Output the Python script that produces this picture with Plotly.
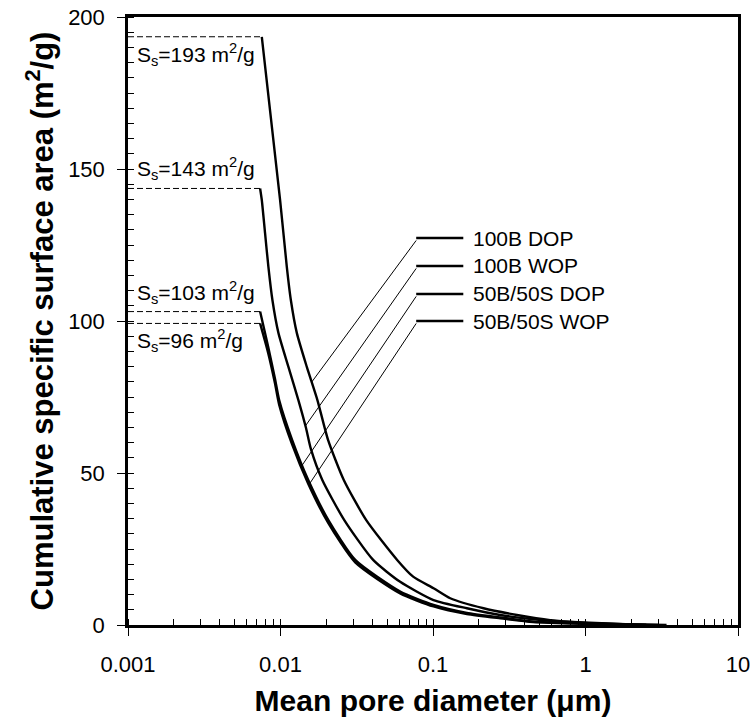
import numpy as np
import plotly.graph_objects as go

# ---------------- data ----------------
series_names = ["100B DOP", "100B WOP", "50B/50S DOP", "50B/50S WOP"]
ss_labels = ["193", "143", "103", "96"]

x_100B_DOP = [0.00754, 0.00994, 0.0110, 0.01169, 0.01279, 0.01488, 0.01746, 0.0205, 0.0260,
              0.0365, 0.0582, 0.0741, 0.1008, 0.1297, 0.2145, 0.355, 0.587, 0.968, 2.0, 3.4]
y_100B_DOP = [193.5, 139.8, 117.8, 106.9, 96.1, 84.9, 74.0, 60.9, 47.7,
              34.5, 21.4, 15.9, 12.1, 8.8, 5.5, 3.3, 1.6, 0.8, 0.2, 0.0]

x_100B_WOP = [0.00735, 0.00754, 0.00792, 0.00833, 0.00885, 0.00969, 0.01127, 0.0131, 0.0147,
              0.0158, 0.0188, 0.0262, 0.0405, 0.0609, 0.1008, 0.1668, 0.276, 0.454, 1.0, 2.0, 3.0]
y_100B_WOP = [143.6, 139.8, 128.9, 117.8, 106.9, 96.1, 84.9, 74.0, 64.8,
              58.0, 47.7, 34.5, 21.4, 14.2, 8.2, 5.5, 3.3, 1.9, 0.7, 0.2, 0.0]

x_50_DOP = [0.00735, 0.0083, 0.0092, 0.0098, 0.0119, 0.0152, 0.0206, 0.0309, 0.0609,
            0.1008, 0.1668, 0.276, 0.454, 1.0, 2.5]
y_50_DOP = [103.1, 91.5, 81.0, 74.0, 61.0, 47.7, 34.5, 21.4, 11.0,
            6.6, 4.0, 2.5, 1.1, 0.5, 0.0]

x_50_WOP = [0.00735, 0.0083, 0.0092, 0.0098, 0.0119, 0.0152, 0.0206, 0.0309, 0.0609,
            0.1008, 0.1668, 0.276, 0.454, 1.0, 2.5]
y_50_WOP = [99.2, 89.5, 79.5, 72.5, 59.5, 46.5, 33.5, 20.6, 10.4,
            6.1, 3.6, 2.2, 1.0, 0.4, 0.0]

x_tick_vals = [0.001, 0.01, 0.1, 1, 10]
x_tick_text = ["0.001", "0.01", "0.1", "1", "10"]
y_tick_vals = [0, 50, 100, 150, 200]

# legend label anchor (y values) and pointer target values on curves
legend_label_y = [127.3, 118.1, 108.9, 100.0]
pointer_target_y = [79.9, 65.5, 52.6, 46.1]
legend_line_x = [0.0776, 0.158]

xs = [x_100B_DOP, x_100B_WOP, x_50_DOP, x_50_WOP]
ys = [y_100B_DOP, y_100B_WOP, y_50_DOP, y_50_WOP]

FONT = "Arial, Liberation Sans, sans-serif"
fig = go.Figure()

# curves
for name, x, y in zip(series_names, xs, ys):
    fig.add_trace(go.Scatter(x=x, y=y, mode="lines", name=name,
                             line=dict(color="black", width=2.4, shape="spline", smoothing=0.6),
                             showlegend=False))

# dashed reference lines from y-axis to each curve start
for x, y in zip(xs, ys):
    fig.add_trace(go.Scatter(x=[x_tick_vals[0], x[0]], y=[y[0], y[0]], mode="lines",
                             line=dict(color="black", width=1, dash="6px,3px"),
                             showlegend=False, hoverinfo="skip"))

# legend-like labels with pointer lines
for name, x, y, ly, ty in zip(series_names, xs, ys, legend_label_y, pointer_target_y):
    lx = np.log10(np.array(x))
    ya = np.array(y)
    tx = 10 ** np.interp(ty, ya[::-1], lx[::-1])
    fig.add_trace(go.Scatter(x=legend_line_x, y=[ly, ly], mode="lines",
                             line=dict(color="black", width=2.5),
                             showlegend=False, hoverinfo="skip"))
    fig.add_trace(go.Scatter(x=[legend_line_x[0], tx], y=[ly - 0.8, ty], mode="lines",
                             line=dict(color="black", width=1),
                             showlegend=False, hoverinfo="skip"))
    fig.add_annotation(x=np.log10(legend_line_x[1]) + 0.05, y=ly, xref="x", yref="y",
                       text=name, showarrow=False, xanchor="left", yanchor="middle",
                       font=dict(family=FONT, size=21, color="black"))

# S_s annotations
ss_anchor = ["top", "bottom", "bottom", "top"]
for lab, y, anc in zip(ss_labels, ys, ss_anchor):
    fig.add_annotation(x=0.011, y=y[0], xref="paper", yref="y",
                       text="S<sub>s</sub>=" + lab + " m<sup>2</sup>/g", showarrow=False,
                       xanchor="left", yanchor=anc, yshift=(-1 if anc == "top" else 3),
                       font=dict(family=FONT, size=21, color="black"))

minor_x = [k * 10.0 ** e for e in range(-3, 1) for k in range(1, 10)] + [10.0]

fig.update_layout(
    width=753, height=728,
    margin=dict(l=128, r=15, t=17, b=103),
    plot_bgcolor="white", paper_bgcolor="white",
    font=dict(family=FONT, color="black"),
    showlegend=False,
)
fig.update_xaxes(
    type="log", range=[-3, 1], automargin=False,
    tickvals=x_tick_vals, ticktext=x_tick_text,
    ticks="outside", ticklen=8, tickwidth=1, tickcolor="black",
    ticklabelstandoff=10,
    minor=dict(tickvals=minor_x, ticks="inside", ticklen=6, tickwidth=1, tickcolor="black"),
    showline=True, linewidth=2.5, linecolor="black", mirror=True,
    showgrid=False, zeroline=False,
    tickfont=dict(family=FONT, size=22, color="black"),
    title=dict(text="<b>Mean pore diameter (μm)</b>", standoff=14,
               font=dict(family=FONT, size=30, color="black")),
)
fig.update_yaxes(
    range=[0, 200], automargin=False,
    tickvals=y_tick_vals,
    ticks="outside", ticklen=8, tickwidth=1, tickcolor="black",
    ticklabelstandoff=8,
    minor=dict(dtick=5, ticks="inside", ticklen=6, tickwidth=1, tickcolor="black"),
    showline=True, linewidth=2.5, linecolor="black", mirror=True,
    showgrid=False, zeroline=False,
    tickfont=dict(family=FONT, size=22, color="black"),
    title=dict(text="<b>Cumulative specific surface area (m<sup>2</sup>/g)</b>", standoff=6,
               font=dict(family=FONT, size=31, color="black")),
)

fig.write_html("out.html")
